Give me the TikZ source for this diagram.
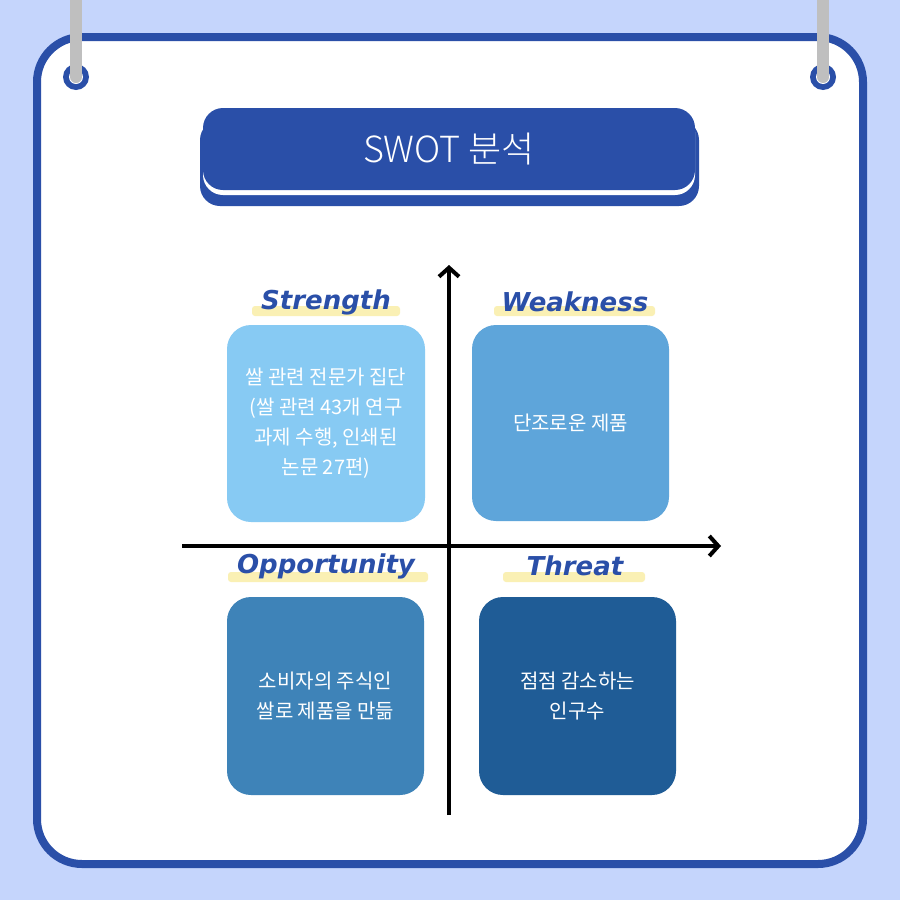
\documentclass[tikz,border=0pt]{standalone}
\usepackage{fontspec}
\usetikzlibrary{arrows.meta}
\setmainfont{Noto Sans CJK KR}
\newfontfamily\labfont{DejaVu Sans}
\begin{document}
\begin{tikzpicture}[x=1pt,y=-1pt,
  quad/.style={rounded corners=24pt,text=white,align=center,font=\fontsize{20}{30}\selectfont},
  lab/.style={font=\labfont\bfseries\itshape\fontsize{26}{28}\selectfont,text=titleblue},
  hl/.style={fill=hlyellow,rounded corners=3pt}]
\definecolor{bgblue}{HTML}{C5D5FC}
\definecolor{titleblue}{HTML}{2A4FA8}
\definecolor{hlyellow}{HTML}{FAF0B4}
\definecolor{cS}{HTML}{87CAF3}
\definecolor{cW}{HTML}{5EA5DA}
\definecolor{cO}{HTML}{3E83B8}
\definecolor{cT}{HTML}{1F5C96}
\useasboundingbox (0,0) rectangle (900,900);
\fill[bgblue] (0,0) rectangle (900,900);
\draw[titleblue,line width=8pt,fill=white,rounded corners=45pt] (37,37) rectangle (863,864);
% posts and holes
\foreach \px in {76,823}{
  \fill[titleblue] (\px,77) circle (13);
  \fill[white] (\px,77) circle (7);
  \fill[gray!50] (\px-6,0) rectangle (\px+6,77);
  \fill[gray!50] (\px,77) circle (6);
}
% title
\fill[titleblue,rounded corners=20pt] (200,120) rectangle (699,206);
\fill[white,rounded corners=20pt] (203,112) rectangle (695,195);
\node[fill=titleblue,rounded corners=20pt,minimum width=492pt,minimum height=82pt,inner sep=0pt,text=white,font=\fontspec{Noto Sans CJK KR Light}\fontsize{36}{40}\selectfont] (title) at (449,149) {SWOT 분석};
% axes
\coordinate (vb) at (449,815); \coordinate (vt) at (449,265);
\coordinate (hl) at (182,546); \coordinate (hr) at (721,546);
\draw[line width=4pt,-{Straight Barb[length=9pt,width=20pt]}] (vb) -- (vt);
\draw[line width=4pt,-{Straight Barb[length=9pt,width=20pt]}] (hl) -- (hr);
% boxes
\node[quad,fill=cS,minimum width=198pt,minimum height=197pt] (S) at (326,423.5) {쌀 관련 전문가 집단\\(쌀 관련 43개 연구\\과제 수행, 인쇄된\\논문 27편)};
\node[quad,fill=cW,minimum width=197pt,minimum height=196pt] (W) at (570.5,423) {단조로운 제품};
\node[quad,fill=cO,minimum width=197pt,minimum height=198pt] (O) at (325.5,696) {소비자의 주식인\\쌀로 제품을 만듦};
\node[quad,fill=cT,minimum width=197pt,minimum height=198pt] (T) at (577.5,696) {점점 감소하는\\인구수};
% labels
\fill[hl] (252,306) rectangle (400,316);
\fill[hl] (494,306) rectangle (655,316);
\fill[hl] (228,572) rectangle (428,582);
\fill[hl] (503,572) rectangle (645,582);
\node[lab] (ls) at (326,302) {Strength};
\node[lab] (lw) at (575,302) {Weakness};
\node[lab] (lo) at (326,566) {Opportunity};
\node[lab] (lt) at (575,566) {Threat};
\end{tikzpicture}
\end{document}
